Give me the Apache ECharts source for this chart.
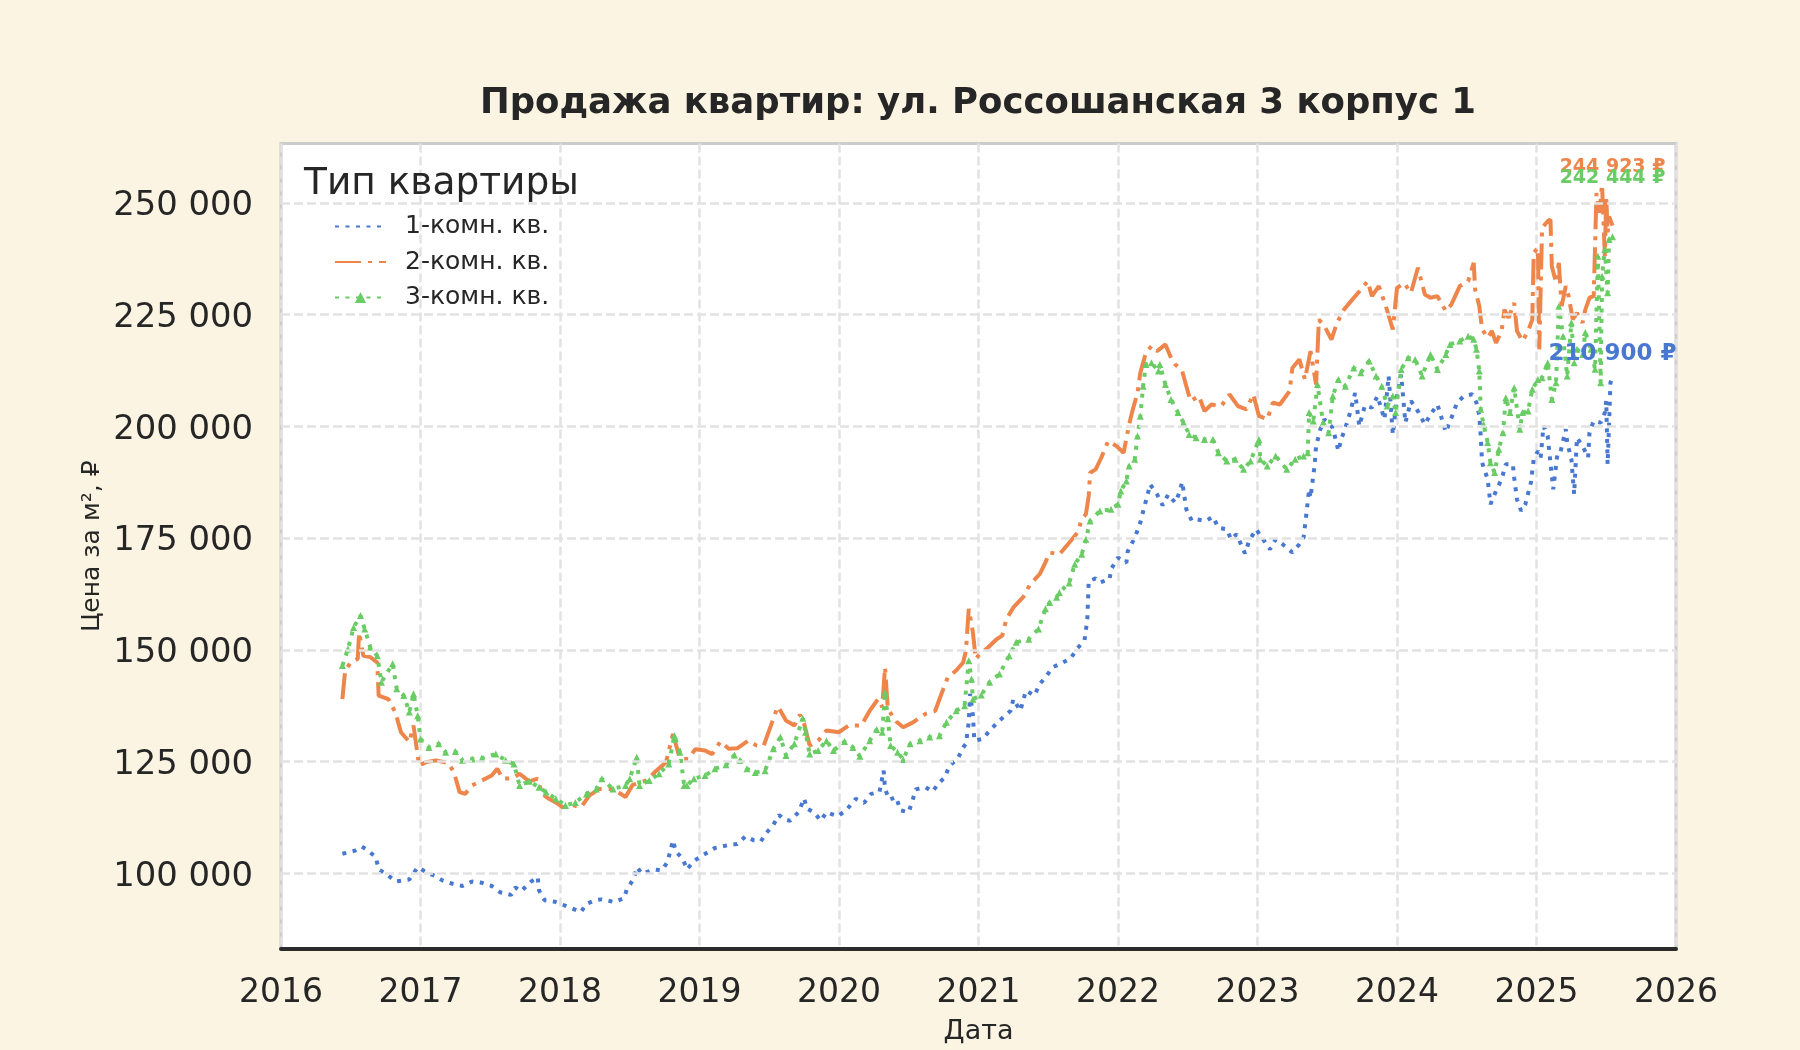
<!DOCTYPE html>
<html>
<head>
<meta charset="utf-8">
<title>Продажа квартир</title>
<script src="https://cdn.jsdelivr.net/npm/echarts@6/dist/echarts.min.js"></script>
<style>
    html, body { margin: 0; padding: 0; background: #fbf4e2; }
    #chart { width: 1800px; height: 1050px; }
</style>
</head>
<body>
<div id="chart"></div>
<script>
'use strict'

// подписи серий и осей
const seriesNames = ['1-комн. кв.', '2-комн. кв.', '3-комн. кв.']
const yearTicks = [2016, 2017, 2018, 2019, 2020, 2021, 2022, 2023, 2024, 2025, 2026]
const priceTicks = [100000, 125000, 150000, 175000, 200000, 225000, 250000]

// [дата (десятичный год), цена за м²]
const room1 = [
    [2016.44, 104400], [2016.53, 105100], [2016.58, 106000], [2016.62, 105200], [2016.68, 103650],
    [2016.70, 100900], [2016.76, 99800], [2016.82, 98200], [2016.92, 98650], [2016.98, 101400],
    [2017.04, 100300], [2017.10, 99500], [2017.16, 98400], [2017.23, 97700], [2017.30, 97200],
    [2017.37, 98200], [2017.44, 97900], [2017.51, 97200], [2017.57, 95800], [2017.65, 95200],
    [2017.68, 96900], [2017.72, 96000], [2017.79, 98100], [2017.84, 99200], [2017.85, 96200],
    [2017.89, 94000], [2017.96, 93700], [2018.02, 93000], [2018.08, 92250], [2018.15, 91350],
    [2018.19, 93200], [2018.25, 94000], [2018.30, 94200], [2018.39, 93600], [2018.46, 94500],
    [2018.48, 96600], [2018.53, 98800], [2018.55, 101400], [2018.59, 99900], [2018.67, 100900],
    [2018.73, 100700], [2018.77, 102500], [2018.81, 107400], [2018.83, 104900], [2018.88, 103300],
    [2018.91, 100900], [2018.96, 102800], [2019.02, 104000], [2019.11, 105700], [2019.20, 106300],
    [2019.27, 106600], [2019.33, 108300], [2019.39, 107400], [2019.44, 107200], [2019.48, 109100],
    [2019.53, 110900], [2019.57, 113100], [2019.60, 112200], [2019.65, 111800], [2019.71, 113700],
    [2019.75, 116800], [2019.77, 114500], [2019.82, 113700], [2019.87, 111800], [2019.91, 113700],
    [2019.99, 112800], [2020.05, 114100], [2020.12, 116700], [2020.18, 115800], [2020.23, 117800],
    [2020.29, 118200], [2020.32, 123000], [2020.33, 118900], [2020.36, 116500], [2020.41, 117100],
    [2020.44, 114100], [2020.50, 113700], [2020.53, 116700], [2020.55, 118800], [2020.62, 119300],
    [2020.67, 118300], [2020.72, 120400], [2020.76, 121500], [2020.79, 124100], [2020.85, 125600],
    [2020.89, 128200], [2020.91, 129000], [2020.93, 133800], [2020.94, 140200], [2020.96, 135300],
    [2020.97, 129700], [2021.03, 130100], [2021.09, 132300], [2021.15, 134200], [2021.23, 136400],
    [2021.25, 139000], [2021.30, 136400], [2021.34, 140900], [2021.40, 139800], [2021.44, 142400],
    [2021.49, 144300], [2021.53, 146100], [2021.60, 147100], [2021.66, 148100], [2021.71, 150400],
    [2021.76, 152100], [2021.78, 156900], [2021.79, 165400], [2021.84, 166000], [2021.87, 165100],
    [2021.94, 165800], [2021.95, 168050], [2022.00, 170650], [2022.06, 169500], [2022.07, 172100],
    [2022.12, 175100], [2022.16, 178500], [2022.19, 182200], [2022.21, 184450], [2022.23, 187050],
    [2022.28, 184800], [2022.32, 182350], [2022.36, 184800], [2022.41, 182950], [2022.44, 185200],
    [2022.46, 187600], [2022.49, 181450], [2022.53, 178850], [2022.57, 179200], [2022.63, 178850],
    [2022.68, 179800], [2022.72, 177350], [2022.78, 177000], [2022.81, 174750], [2022.85, 175900],
    [2022.91, 171600], [2022.94, 174400], [2022.99, 177000], [2023.04, 174750], [2023.09, 172500],
    [2023.13, 174750], [2023.18, 173650], [2023.25, 171800], [2023.30, 173650], [2023.33, 175100],
    [2023.35, 180350], [2023.37, 185950], [2023.38, 184050], [2023.41, 191500], [2023.42, 195600],
    [2023.45, 199300], [2023.48, 201600], [2023.54, 199700], [2023.58, 194500], [2023.60, 197100],
    [2023.63, 199700], [2023.66, 202700], [2023.70, 207500], [2023.73, 200100], [2023.77, 204700],
    [2023.82, 204200], [2023.86, 206800], [2023.91, 201600], [2023.94, 211300], [2023.97, 198200],
    [2024.00, 206800], [2024.03, 211600], [2024.06, 200850], [2024.10, 205700], [2024.15, 203400],
    [2024.20, 200450], [2024.24, 202700], [2024.29, 204900], [2024.35, 198750], [2024.40, 202700],
    [2024.43, 205300], [2024.48, 206800], [2024.54, 207200], [2024.57, 205300], [2024.59, 202350],
    [2024.60, 197900], [2024.61, 191900], [2024.65, 188200], [2024.67, 182600], [2024.71, 185600],
    [2024.75, 188200], [2024.78, 191550], [2024.83, 191550], [2024.84, 188600], [2024.86, 183700],
    [2024.89, 181100], [2024.92, 182600], [2024.96, 187450], [2024.98, 192650], [2025.01, 194500],
    [2025.03, 193050], [2025.05, 200100], [2025.08, 197900], [2025.10, 191900], [2025.12, 185950],
    [2025.15, 193800], [2025.17, 194000], [2025.21, 199400], [2025.22, 196400], [2025.25, 192650],
    [2025.27, 184850], [2025.29, 197500], [2025.33, 195650], [2025.37, 193050], [2025.38, 198600],
    [2025.41, 201250], [2025.46, 200850], [2025.49, 203100], [2025.50, 205700], [2025.51, 191550],
    [2025.52, 200100], [2025.53, 209800], [2025.545, 210900]
]

const room2 = [
    [2016.44, 139000], [2016.46, 145400], [2016.50, 147200], [2016.55, 148000], [2016.56, 153900],
    [2016.59, 148700], [2016.64, 148400], [2016.69, 147200], [2016.70, 139800], [2016.77, 139000],
    [2016.82, 136000], [2016.86, 131600], [2016.92, 129400], [2016.95, 133100], [2016.99, 124100],
    [2017.04, 124900], [2017.11, 125300], [2017.20, 124700], [2017.24, 122600], [2017.28, 118200],
    [2017.32, 117800], [2017.37, 119700], [2017.44, 120800], [2017.51, 121900], [2017.55, 123400],
    [2017.59, 121200], [2017.66, 121300], [2017.71, 122300], [2017.78, 120600], [2017.84, 121200],
    [2017.87, 117800], [2017.92, 116700], [2017.97, 115900], [2018.02, 114800], [2018.09, 115300],
    [2018.15, 114800], [2018.21, 117400], [2018.28, 118900], [2018.38, 118900], [2018.47, 117100],
    [2018.52, 119800], [2018.62, 120800], [2018.69, 123000], [2018.76, 124900], [2018.81, 131200],
    [2018.85, 126700], [2018.89, 125600], [2018.92, 125600], [2018.97, 127800], [2019.04, 127500],
    [2019.09, 126700], [2019.15, 129500], [2019.21, 127900], [2019.27, 128000], [2019.35, 129700],
    [2019.41, 128600], [2019.46, 128600], [2019.52, 133800], [2019.56, 137300], [2019.58, 136400],
    [2019.62, 134200], [2019.68, 133100], [2019.72, 135500], [2019.75, 133500], [2019.79, 128600],
    [2019.85, 129700], [2019.91, 132000], [2020.00, 131600], [2020.07, 133100], [2020.16, 133100],
    [2020.22, 136400], [2020.28, 139000], [2020.31, 137200], [2020.33, 146100], [2020.35, 136800],
    [2020.41, 134000], [2020.46, 132700], [2020.53, 133800], [2020.62, 135700], [2020.69, 136400],
    [2020.73, 139800], [2020.78, 143900], [2020.84, 145400], [2020.89, 147200], [2020.91, 149800],
    [2020.93, 159200], [2020.96, 153900], [2020.98, 148000], [2021.01, 149100], [2021.07, 150600],
    [2021.13, 152400], [2021.17, 153200], [2021.20, 156900], [2021.25, 159500], [2021.32, 161800],
    [2021.37, 164700], [2021.44, 167000], [2021.48, 169600], [2021.51, 171800], [2021.58, 171400],
    [2021.65, 174000], [2021.71, 176300], [2021.74, 179200], [2021.77, 180350], [2021.79, 184450],
    [2021.80, 189650], [2021.84, 190400], [2021.88, 193000], [2021.93, 196750], [2021.99, 195600],
    [2022.04, 194100], [2022.08, 200450], [2022.10, 203100], [2022.14, 207550], [2022.16, 212000],
    [2022.20, 216500], [2022.24, 218000], [2022.28, 216850], [2022.34, 218350], [2022.38, 215350],
    [2022.41, 213900], [2022.46, 212400], [2022.49, 209000], [2022.52, 205700], [2022.58, 206800],
    [2022.62, 203450], [2022.67, 204900], [2022.74, 204550], [2022.80, 207150], [2022.86, 204550],
    [2022.92, 203800], [2022.97, 207150], [2023.01, 202350], [2023.07, 201600], [2023.11, 205300],
    [2023.16, 204900], [2023.23, 207900], [2023.25, 213100], [2023.30, 215000], [2023.34, 210500],
    [2023.38, 216850], [2023.42, 209400], [2023.44, 223900], [2023.48, 222450], [2023.53, 219450],
    [2023.57, 223200], [2023.62, 226150], [2023.66, 227650], [2023.74, 230600], [2023.79, 232500],
    [2023.82, 229150], [2023.87, 231400], [2023.92, 226900], [2023.97, 221700], [2024.00, 231000],
    [2024.05, 232100], [2024.10, 229900], [2024.15, 235500], [2024.20, 229500], [2024.24, 228800],
    [2024.29, 229150], [2024.35, 225800], [2024.39, 227300], [2024.45, 231400], [2024.51, 232500],
    [2024.55, 236600], [2024.56, 230650], [2024.59, 226900], [2024.61, 221700], [2024.65, 219850],
    [2024.68, 221350], [2024.71, 218700], [2024.75, 221350], [2024.77, 226150], [2024.80, 224300],
    [2024.84, 227650], [2024.86, 221350], [2024.90, 219100], [2024.94, 221350], [2024.97, 223950],
    [2024.98, 238850], [2025.01, 239950], [2025.02, 217250], [2025.04, 244400], [2025.08, 245900],
    [2025.10, 246300], [2025.11, 235850], [2025.14, 232150], [2025.16, 236600], [2025.18, 226900],
    [2025.21, 231400], [2025.23, 229150], [2025.26, 223950], [2025.29, 225400], [2025.33, 223200],
    [2025.35, 226150], [2025.38, 228800], [2025.41, 229150], [2025.43, 252200], [2025.45, 247800],
    [2025.47, 254100], [2025.49, 238100], [2025.50, 251500], [2025.51, 243300], [2025.52, 247000],
    [2025.545, 244923]
]

const room3 = [
    [2016.44, 146500], [2016.48, 150200], [2016.52, 155000], [2016.57, 157700], [2016.60, 154700],
    [2016.64, 150600], [2016.69, 148700], [2016.72, 142800], [2016.80, 146900], [2016.83, 141300],
    [2016.88, 139800], [2016.92, 136100], [2016.95, 140200], [2016.98, 135300], [2017.00, 130100],
    [2017.06, 128200], [2017.13, 129000], [2017.18, 127100], [2017.25, 127300], [2017.30, 125300],
    [2017.37, 125600], [2017.44, 125800], [2017.54, 126700], [2017.61, 125300], [2017.67, 124500],
    [2017.71, 119700], [2017.78, 120600], [2017.85, 119300], [2017.90, 118200], [2017.97, 116700],
    [2018.04, 115200], [2018.11, 115900], [2018.19, 117800], [2018.26, 118900], [2018.30, 121200],
    [2018.38, 118900], [2018.47, 119700], [2018.50, 121200], [2018.55, 126000], [2018.57, 119700],
    [2018.64, 120800], [2018.71, 122300], [2018.78, 124500], [2018.82, 130800], [2018.86, 127100],
    [2018.89, 119700], [2018.91, 119700], [2018.96, 121200], [2019.04, 121900], [2019.11, 123400],
    [2019.19, 124300], [2019.25, 126500], [2019.29, 125300], [2019.34, 123400], [2019.40, 122600],
    [2019.47, 123000], [2019.53, 127900], [2019.58, 130500], [2019.62, 126400], [2019.68, 129000],
    [2019.74, 134700], [2019.76, 131600], [2019.79, 126700], [2019.85, 127500], [2019.91, 129700],
    [2019.96, 127500], [2020.04, 129500], [2020.10, 128200], [2020.15, 126200], [2020.22, 129700],
    [2020.27, 132200], [2020.31, 131600], [2020.33, 140500], [2020.35, 134600], [2020.37, 128600],
    [2020.42, 127100], [2020.46, 125500], [2020.51, 129000], [2020.58, 129700], [2020.65, 130500],
    [2020.72, 130800], [2020.77, 133800], [2020.84, 136400], [2020.90, 137500], [2020.93, 147600],
    [2020.95, 143500], [2020.96, 139000], [2021.02, 139900], [2021.08, 142800], [2021.15, 144600],
    [2021.22, 148700], [2021.27, 151700], [2021.36, 152400], [2021.43, 154700], [2021.48, 159200],
    [2021.51, 160600], [2021.56, 161800], [2021.58, 162850], [2021.65, 165000], [2021.69, 169200],
    [2021.74, 171400], [2021.77, 174750], [2021.80, 178850], [2021.87, 181100], [2021.95, 181450],
    [2022.00, 182600], [2022.02, 185550], [2022.06, 187800], [2022.08, 191150], [2022.12, 192650],
    [2022.14, 197850], [2022.16, 202300], [2022.18, 209000], [2022.20, 213850], [2022.24, 214250],
    [2022.29, 212400], [2022.30, 213850], [2022.34, 209400], [2022.38, 206050], [2022.43, 203100],
    [2022.47, 200850], [2022.51, 198200], [2022.56, 197500], [2022.62, 197100], [2022.68, 197100],
    [2022.72, 194100], [2022.78, 192250], [2022.84, 192650], [2022.90, 190400], [2022.95, 192250],
    [2023.01, 197100], [2023.02, 192650], [2023.07, 191150], [2023.13, 193400], [2023.21, 190400],
    [2023.27, 192650], [2023.33, 193400], [2023.36, 194100], [2023.37, 203100], [2023.40, 201200],
    [2023.43, 209400], [2023.47, 200850], [2023.51, 198600], [2023.54, 206800], [2023.58, 210500],
    [2023.63, 209000], [2023.69, 213100], [2023.74, 212000], [2023.80, 214650], [2023.85, 211300],
    [2023.89, 209000], [2023.93, 204550], [2023.97, 206800], [2023.99, 203100], [2024.03, 212750],
    [2024.08, 215350], [2024.13, 215000], [2024.18, 211300], [2024.24, 216100], [2024.29, 212750],
    [2024.35, 216100], [2024.38, 218350], [2024.45, 219100], [2024.51, 220200], [2024.55, 219500],
    [2024.57, 217250], [2024.59, 212400], [2024.60, 203850], [2024.62, 200500], [2024.65, 196400],
    [2024.67, 191900], [2024.70, 189700], [2024.73, 194900], [2024.76, 198600], [2024.78, 206400],
    [2024.81, 203100], [2024.84, 208650], [2024.88, 199400], [2024.90, 203100], [2024.94, 203450],
    [2024.97, 208300], [2025.01, 210500], [2025.04, 210900], [2025.08, 214250], [2025.11, 206050],
    [2025.14, 209800], [2025.16, 226900], [2025.19, 220200], [2025.22, 211300], [2025.25, 223200],
    [2025.27, 214250], [2025.29, 217250], [2025.33, 216100], [2025.35, 221000], [2025.39, 217250],
    [2025.42, 212800], [2025.44, 238100], [2025.46, 209800], [2025.47, 233600], [2025.49, 239600],
    [2025.51, 229900], [2025.52, 241800], [2025.545, 242444]
]

const colors = ['#4878d0', '#ee854a', '#6acc64']
const font = 'DejaVu Sans'
const ink = '#262626'

// 250000 -> "250 000"
function fmt(v) {
    return String(Math.round(v)).replace(/\B(?=(\d{3})+(?!\d))/g, ' ')
}

// подпись последнего значения над концом линии
function endMark(data, color, size, dy) {
    const last = data[data.length - 1]
    return {
        symbol: 'circle',
        symbolSize: 0,
        silent: true,
        data: [{ coord: last, value: last[1] }],
        label: {
            show: true,
            position: 'inside',
            offset: [0, dy],
            formatter: p => fmt(p.value) + ' ₽',
            color: color,
            fontFamily: font,
            fontWeight: 'bold',
            fontSize: size
        }
    }
}

const chart = echarts.init(document.getElementById('chart'))

chart.setOption({
    backgroundColor: '#fbf4e2',
    animation: false,
    textStyle: { fontFamily: font, color: ink },
    graphic: [
        {
            type: 'text', x: 978, y: 103.5,
            style: {
                text: 'Продажа квартир: ул. Россошанская 3 корпус 1',
                font: 'bold 35.5px "DejaVu Sans"', fill: ink,
                align: 'center', verticalAlign: 'middle',
                textAlign: 'center', textVerticalAlign: 'middle'
            }
        },
        {
            type: 'text', x: 304, y: 184.5, z: 100,
            style: {
                text: 'Тип квартиры',
                font: '37.5px "DejaVu Sans"', fill: ink,
                align: 'left', verticalAlign: 'middle',
                textAlign: 'left', textVerticalAlign: 'middle'
            }
        }
    ],
    legend: {
        data: [
            { name: seriesNames[0], itemStyle: { opacity: 0 } },
            { name: seriesNames[1], itemStyle: { opacity: 0 } },
            { name: seriesNames[2] }
        ],
        orient: 'vertical',
        left: 329,
        top: 209,
        itemWidth: 51,
        itemHeight: 14,
        itemGap: 10.5,
        textStyle: { fontSize: 25, lineHeight: 25, color: ink, fontFamily: font, padding: [0, 0, 0, 14] }
    },
    grid: {
        show: true,
        left: 281, right: 124, top: 143.5, bottom: 99.5,
        backgroundColor: '#ffffff',
        borderColor: '#cccccc',
        borderWidth: 3
    },
    xAxis: {
        type: 'value',
        min: 2016, max: 2026, interval: 1,
        name: 'Дата',
        nameLocation: 'middle',
        nameGap: 69,
        nameMoveOverlap: false,
        nameTextStyle: { fontSize: 27, color: ink, fontFamily: font },
        axisLine: { show: true, onZero: false, lineStyle: { color: '#2b2b2b', width: 4 } },
        axisTick: { show: false },
        axisLabel: { fontSize: 33, color: ink, fontFamily: font, margin: 28, formatter: v => String(v), customValues: yearTicks },
        splitLine: { show: true, lineStyle: { color: '#e2e2e2', width: 2.5, type: [9, 4] } }
    },
    yAxis: {
        type: 'value',
        min: 83100, max: 263300,
        name: 'Цена за м², ₽',
        nameLocation: 'middle',
        nameGap: 176,
        nameMoveOverlap: false,
        nameTextStyle: { fontSize: 25, color: ink, fontFamily: font },
        axisLine: { show: false },
        axisTick: { show: false },
        splitLine: { show: false },
        axisLabel: {
            fontSize: 33.8, color: ink, fontFamily: font, margin: 28,
            verticalAlign: 'top', lineHeight: 7,
            formatter: fmt, customValues: priceTicks
        }
    },
    series: [
        {
            // горизонтальная сетка
            name: 'grid',
            type: 'line',
            data: [],
            silent: true,
            z: 1,
            markLine: {
                silent: true,
                symbol: 'none',
                label: { show: false },
                lineStyle: { color: '#e2e2e2', width: 2.5, type: [9, 4] },
                data: priceTicks.map(v => ({ yAxis: v }))
            }
        },
        {
            name: seriesNames[0],
            type: 'line',
            data: room1,
            symbol: 'none',
            z: 3,
            color: colors[0],
            lineStyle: { color: colors[0], width: 4, type: [4, 6.5], cap: 'butt' },
            markPoint: endMark(room1, colors[0], 23, -24)
        },
        {
            name: seriesNames[1],
            type: 'line',
            data: room2,
            symbol: 'none',
            z: 3,
            color: colors[1],
            lineStyle: { color: colors[1], width: 4, type: [26, 7, 4, 7], cap: 'butt' },
            markPoint: endMark(room2, colors[1], 19, -59)
        },
        {
            name: seriesNames[2],
            type: 'line',
            data: room3,
            symbol: 'triangle',
            symbolSize: 7,
            showAllSymbol: true,
            z: 3,
            color: colors[2],
            itemStyle: { color: colors[2] },
            lineStyle: { color: colors[2], width: 4, type: [4, 6.5], cap: 'butt' },
            markPoint: endMark(room3, colors[2], 19, -59)
        }
    ]
})
</script>
</body>
</html>
